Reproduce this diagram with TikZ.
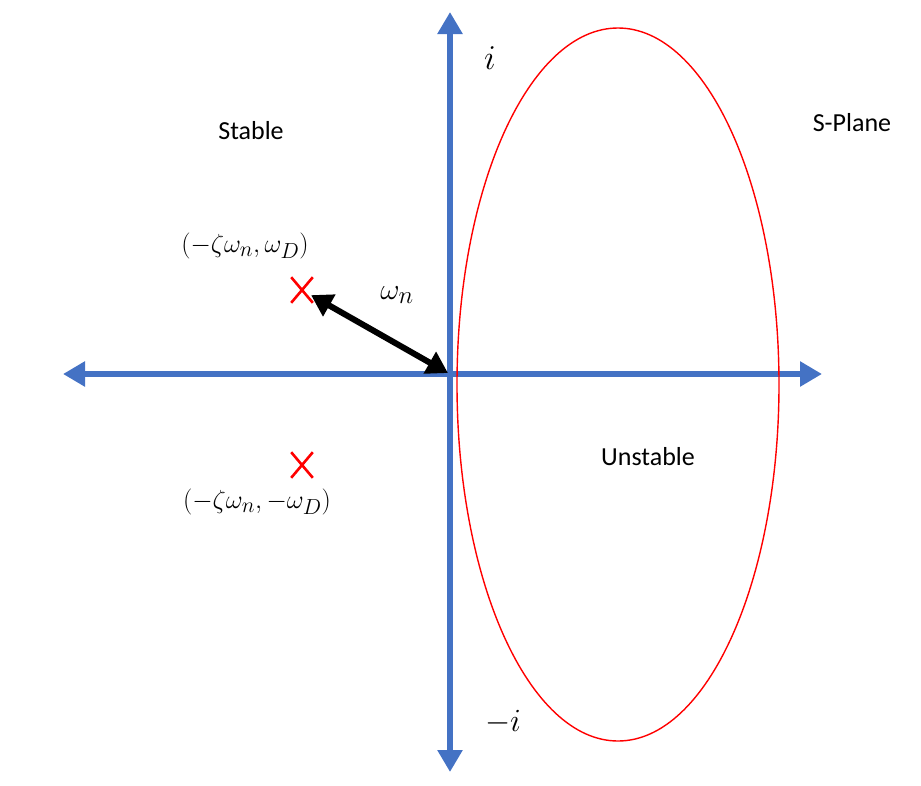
\documentclass[tikz,border=0pt]{standalone}
\usepackage{fontspec}
\setmainfont{Carlito}
\usetikzlibrary{arrows.meta,shapes.misc}
\definecolor{axisblue}{RGB}{68,114,196}
\newcommand{\bigmath}[2][1.09]{\scalebox{#1}{\fontsize{24.88}{30}\selectfont$#2$}}
\begin{document}
\begin{tikzpicture}[x=1pt,y=-1pt,
  axis/.style={draw=axisblue,line width=6pt,-{Triangle[width=24pt,length=22pt]}},
  pole/.style={cross out,draw=red,line width=2.6pt,minimum width=19pt,minimum height=23pt,inner sep=0pt},
  lbl/.style={font=\fontsize{26}{30}\selectfont,inner sep=0pt},
  mlbl/.style={inner sep=0pt}]
\useasboundingbox (0,0) rectangle (921,785);
\coordinate (o) at (450,374);
\coordinate (top) at (450,12);
\coordinate (bot) at (450,772);
\coordinate (left) at (63,374);
\coordinate (right) at (822,374);
\draw[axis] (o) -- (top);
\draw[axis] (o) -- (bot);
\draw[axis] (o) -- (left);
\draw[axis] (o) -- (right);
\draw[red,line width=1.4pt] (618,384.5) ellipse [x radius=161, y radius=356.5];
\node[pole] (p1) at (302,290) {};
\node[pole] (p2) at (302,465) {};
\coordinate (oarrow) at (448,373);
\draw[line width=6pt,{Triangle[width=24pt,length=21pt]}-{Triangle[width=24pt,length=21pt]},shorten <=-2pt] (p1) -- (oarrow);
\node[mlbl] (ipos) at (490,58) {\bigmath[1.4]{i}};
\node[mlbl] (ineg) at (503,722) {\bigmath[1.3]{-i}};
\node[lbl] (stable) at (251,131) {Stable};
\node[lbl] (splane) at (852,123) {S-Plane};
\node[lbl] (unstable) at (648,457) {Unstable};
\node[mlbl] (l1) at (245,246) {\bigmath[1.05]{(-\zeta\omega_n,\omega_D)}};
\node[mlbl] (l2) at (257,502) {\bigmath[1.05]{(-\zeta\omega_n,-\omega_D)}};
\node[mlbl] (wn) at (397,295) {\bigmath[1.2]{\omega_n}};
\end{tikzpicture}
\end{document}
